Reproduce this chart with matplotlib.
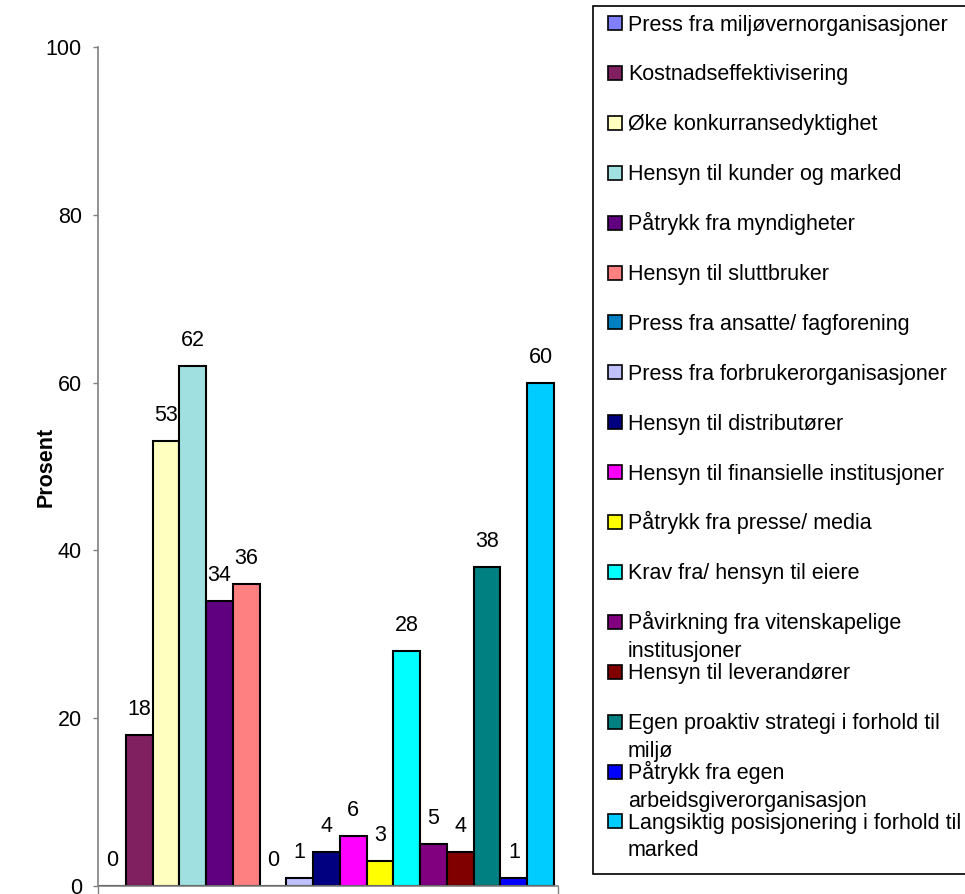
import numpy as np
import matplotlib
matplotlib.use("Agg")
import matplotlib.pyplot as plt
from matplotlib.patches import Rectangle

plt.rcParams['font.family'] = ['Liberation Sans', 'DejaVu Sans']

labels = [
    'Press fra miljøvernorganisasjoner',
    'Kostnadseffektivisering',
    'Øke konkurransedyktighet',
    'Hensyn til kunder og marked',
    'Påtrykk fra myndigheter',
    'Hensyn til sluttbruker',
    'Press fra ansatte/ fagforening',
    'Press fra forbrukerorganisasjoner',
    'Hensyn til distributører',
    'Hensyn til finansielle institusjoner',
    'Påtrykk fra presse/ media',
    'Krav fra/ hensyn til eiere',
    'Påvirkning fra vitenskapelige\ninstitusjoner',
    'Hensyn til leverandører',
    'Egen proaktiv strategi i forhold til\nmiljø',
    'Påtrykk fra egen\narbeidsgiverorganisasjon',
    'Langsiktig posisjonering i forhold til\nmarked',
]
values = [0, 18, 53, 62, 34, 36, 0, 1, 4, 6, 3, 28, 5, 4, 38, 1, 60]
colors = ['#8080FF', '#802060', '#FFFFC0', '#A0E0E0', '#600080', '#FF8080',
          '#0080C0', '#C0C0FF', '#000080', '#FF00FF', '#FFFF00', '#00FFFF',
          '#800080', '#800000', '#008080', '#0000FF', '#00CCFF']
yticks = [0, 20, 40, 60, 80, 100]

W, H = 965, 894
FS = 15.5
fig = plt.figure(figsize=(W / 100, H / 100), dpi=100)
ax = fig.add_axes([98 / W, 1 - 886 / H, 460 / W, (886 - 47) / H])

x = np.arange(len(values))
ax.bar(x, values, width=1.0, color=colors, edgecolor='black', linewidth=1.5)
for xi, v in zip(x, values):
    ax.annotate(str(v), (xi, v), xytext=(0, 14.4), textcoords='offset points',
                ha='center', va='baseline', fontsize=FS)

xl = (-0.5 - 1 / 26.8, 16.5 + 4 / 26.8)
ax.set_xlim(*xl)
ax.set_ylim(0, 100)
ax.set_xticks(list(xl))
ax.set_xticklabels(['', ''])
ax.set_yticks(yticks)
ax.tick_params(axis='y', direction='out', length=3.6, width=1, color='#808080',
               labelsize=FS, pad=8.0)
ax.tick_params(axis='x', direction='out', length=6, width=1, color='#808080')
for s in ['top', 'right']:
    ax.spines[s].set_visible(False)
for s in ['left', 'bottom']:
    ax.spines[s].set_color('#808080')
    ax.spines[s].set_linewidth(1.2)
ax.set_ylabel('Prosent', fontsize=FS, fontweight='bold')
ax.yaxis.set_label_coords((57 - 98) / 460, 0.5)

# legend drawn by hand, Excel style
fig.patches.append(Rectangle((593 / W, 1 - 874 / H), (975 - 593) / W, (874 - 6) / H,
                             transform=fig.transFigure, facecolor='white',
                             edgecolor='black', linewidth=1.2))
for i, (lab, c) in enumerate(zip(labels, colors)):
    yc = 23 + i * 49.9
    fig.patches.append(Rectangle((608 / W, 1 - (yc + 7) / H), 14 / W, 14 / H,
                                 transform=fig.transFigure, facecolor=c,
                                 edgecolor='black', linewidth=1.2))
    for k, line in enumerate(lab.split('\n')):
        fig.text(628 / W, 1 - (yc + 7.5 + k * 27.5) / H, line, fontsize=FS,
                 ha='left', va='baseline')

fig.savefig('out.png', dpi=100)
